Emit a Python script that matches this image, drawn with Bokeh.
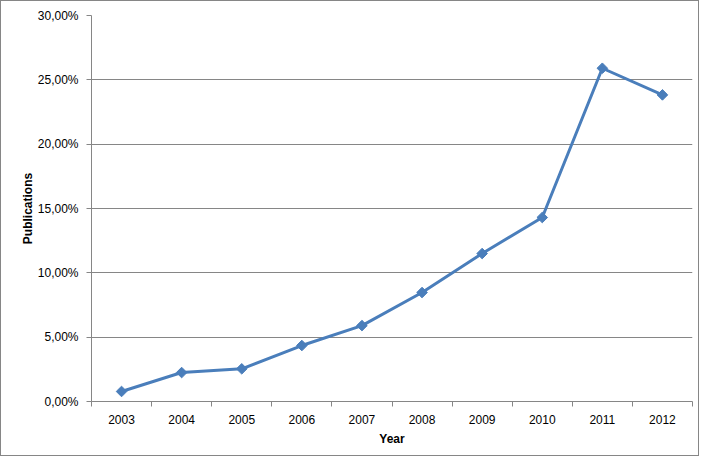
import numpy as np
from bokeh.plotting import figure
from bokeh.models import FixedTicker, Range1d
from bokeh.embed import file_html
from bokeh.resources import INLINE

years = ["2003", "2004", "2005", "2006", "2007", "2008", "2009", "2010", "2011", "2012"]
publications = [0.78, 2.25, 2.54, 4.35, 5.90, 8.47, 11.50, 14.30, 25.90, 23.83]
y_ticks = [0, 5, 10, 15, 20, 25, 30]
y_tick_labels = ["0,00%", "5,00%", "10,00%", "15,00%", "20,00%", "25,00%", "30,00%"]

x = np.arange(len(years)) + 0.5

p = figure(width=699, height=456, output_backend="svg", toolbar_location=None,
           x_range=Range1d(0, len(years)), y_range=Range1d(0, 30),
           min_border_left=90, min_border_right=8, min_border_top=14, min_border_bottom=56)
p.outline_line_color = None
p.styles = {"border": "1px solid #868686", "box-sizing": "border-box"}

p.line(x, publications, line_color="#4A7EBB", line_width=3)
p.scatter(x, publications, marker="square", angle=np.pi / 4, size=7.5,
          fill_color="#4A7EBB", line_color="#4A7EBB")

grey = "#868686"
font = "Liberation Sans"

# x axis
p.xaxis.ticker = FixedTicker(ticks=list(x), minor_ticks=list(range(len(years) + 1)))
p.xaxis.major_label_overrides = {float(v): s for v, s in zip(x, years)}
p.xaxis.major_tick_line_color = None
p.xaxis.major_tick_out = 0
p.xaxis.major_tick_in = 0
p.xaxis.minor_tick_line_color = grey
p.xaxis.minor_tick_out = 5
p.xaxis.minor_tick_in = 0
p.xaxis.major_label_standoff = 8
p.xaxis.axis_label = "Year"
p.xaxis.axis_label_standoff = 5
p.xgrid.grid_line_color = None

# y axis
p.yaxis.ticker = FixedTicker(ticks=y_ticks, minor_ticks=[])
p.yaxis.major_label_overrides = {v: s for v, s in zip(y_ticks, y_tick_labels)}
p.yaxis.major_tick_line_color = grey
p.yaxis.major_tick_out = 5
p.yaxis.major_tick_in = 0
p.yaxis.minor_tick_line_color = None
p.yaxis.major_label_standoff = 8
p.yaxis.axis_label = "Publications"
p.yaxis.axis_label_standoff = 0
p.ygrid.grid_line_color = grey
p.ygrid.grid_line_width = 1

for ax in (p.xaxis, p.yaxis):
    ax.axis_line_color = grey
    ax.axis_line_width = 1
    ax.major_label_text_font = font
    ax.major_label_text_font_size = "12px"
    ax.major_label_text_color = "black"
    ax.axis_label_text_font = font
    ax.axis_label_text_font_size = "12px"
    ax.axis_label_text_font_style = "bold"
    ax.axis_label_text_color = "black"

open("out.html", "w").write(file_html(p, INLINE))
